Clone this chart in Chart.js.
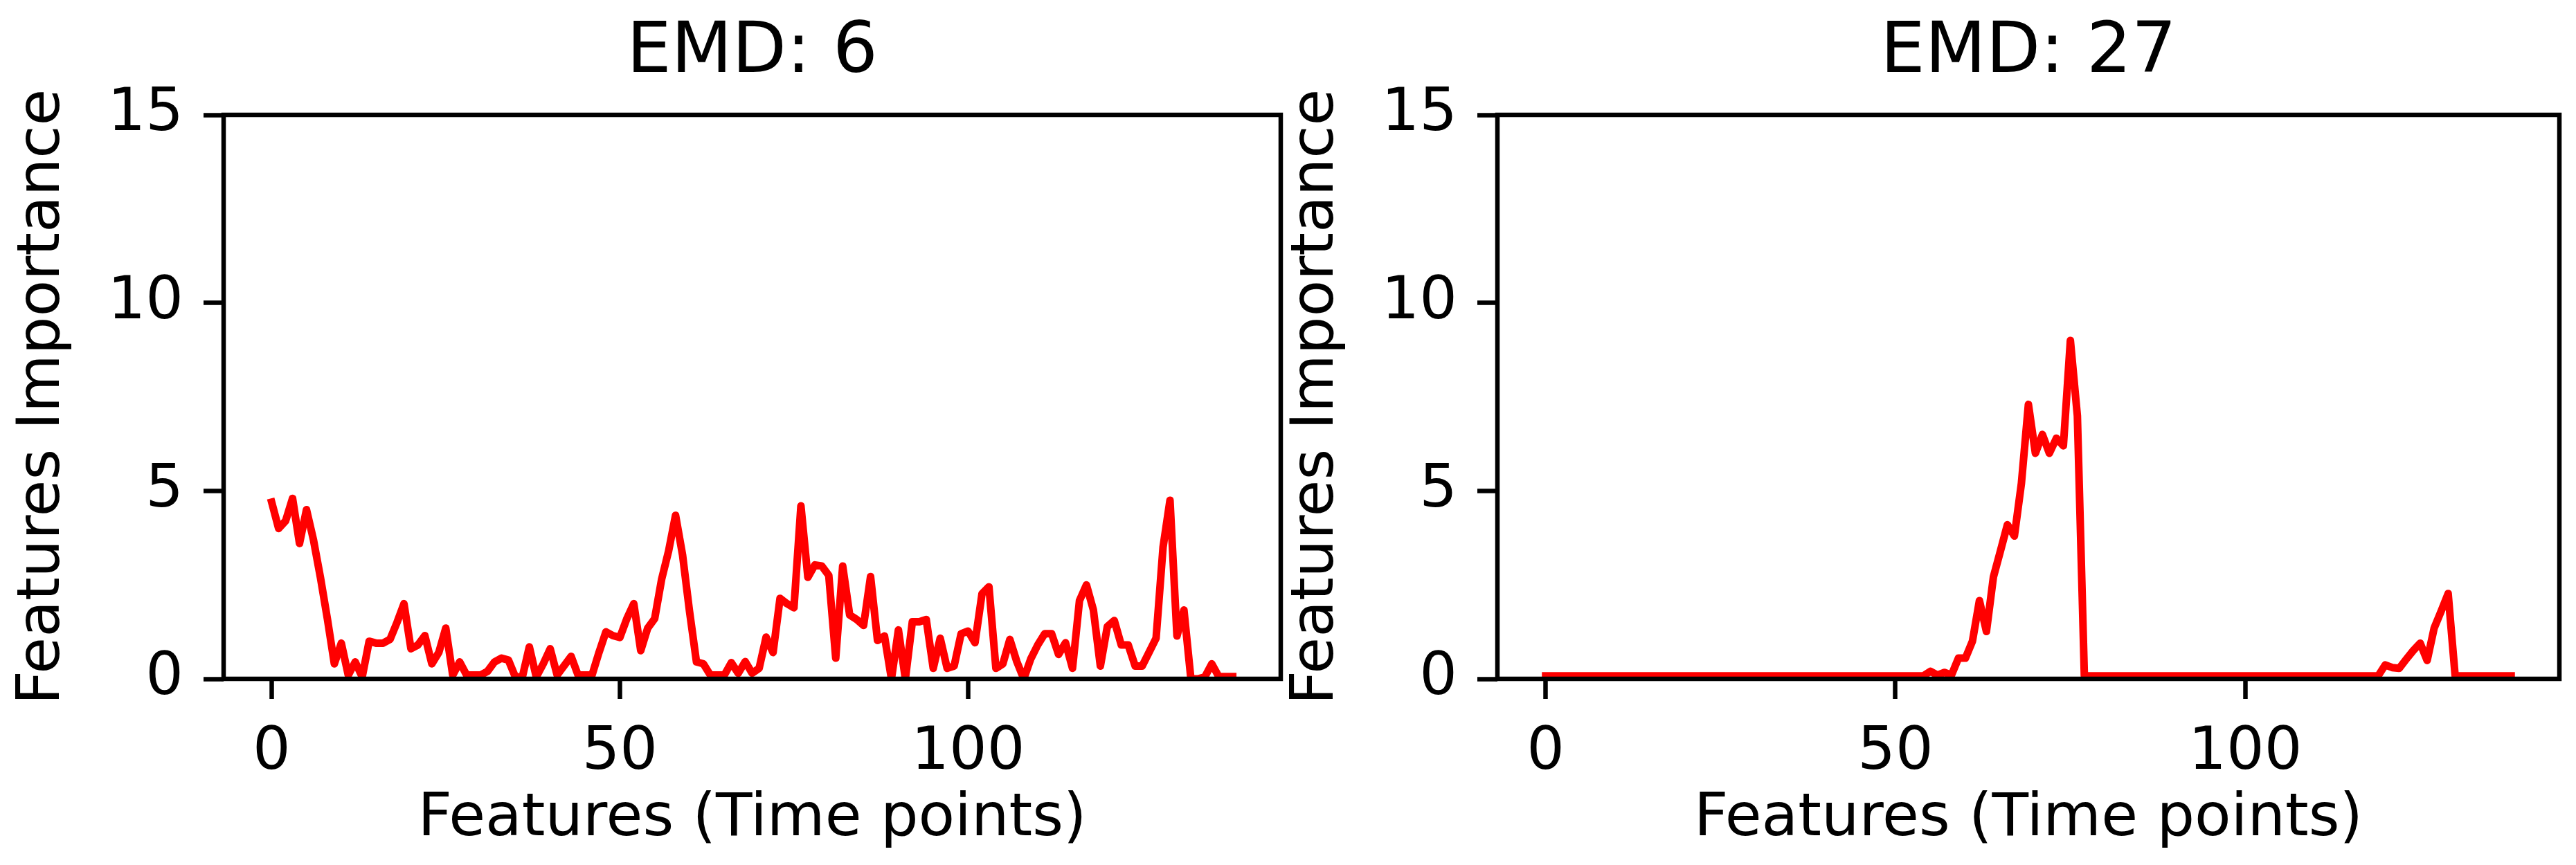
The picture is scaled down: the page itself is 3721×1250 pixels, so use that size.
<!DOCTYPE html>
<html>
<head>
<script src="https://cdn.jsdelivr.net/npm/chart.js@4.4.1/dist/chart.umd.min.js"></script>
<style>
  html, body { margin: 0; padding: 0; background: #fff; }
  body { width: 3721px; height: 1250px; position: relative; overflow: hidden; }
  .panel { position: absolute; top: 0; height: 1250px; }
</style>
</head>
<body>

<div class="panel" style="left:0px;width:1880px"><canvas id="leftChart"></canvas></div>
<div class="panel" style="left:1840px;width:1881px"><canvas id="rightChart"></canvas></div>

<script>
// feature importance per time point
const leftImportance = [
  4.7, 4.0, 4.2, 4.8, 3.6, 4.5, 3.7, 2.7, 1.6, 0.4,
  0.95, 0.1, 0.45, 0.05, 1.0, 0.95, 0.95, 1.05, 1.5, 2.0,
  0.8, 0.9, 1.15, 0.4, 0.7, 1.35, 0.1, 0.45, 0.1, 0.1,
  0.1, 0.2, 0.45, 0.55, 0.5, 0.05, 0.05, 0.85, 0.05, 0.4,
  0.8, 0.1, 0.35, 0.6, 0.1, 0.1, 0.1, 0.7, 1.25, 1.15,
  1.1, 1.6, 2.0, 0.75, 1.35, 1.6, 2.65, 3.4, 4.35, 3.3,
  1.8, 0.45, 0.4, 0.1, 0.1, 0.1, 0.43, 0.15, 0.46, 0.15,
  0.28, 1.11, 0.7, 2.14, 2.0, 1.89, 4.6, 2.7, 3.03, 3.0,
  2.75, 0.55, 3.0, 1.7, 1.58, 1.42, 2.72, 1.02, 1.14, 0.0,
  1.3, 0.0, 1.52, 1.52, 1.58, 0.28, 1.08, 0.28, 0.34, 1.2,
  1.27, 0.96, 2.26, 2.45, 0.28, 0.4, 1.05, 0.46, 0.0, 0.53,
  0.9, 1.2, 1.2, 0.65, 0.96, 0.28, 2.08, 2.5, 1.83, 0.34,
  1.39, 1.55, 0.9, 0.9, 0.34, 0.34, 0.71, 1.08, 3.5, 4.75,
  1.14, 1.83, 0.0, 0.0, 0.05, 0.4, 0.06, 0.06, 0.06
];

const rightImportance = [
  0.08, 0.08, 0.08, 0.08, 0.08, 0.08, 0.08, 0.08, 0.08, 0.08,
  0.08, 0.08, 0.08, 0.08, 0.08, 0.08, 0.08, 0.08, 0.08, 0.08,
  0.08, 0.08, 0.08, 0.08, 0.08, 0.08, 0.08, 0.08, 0.08, 0.08,
  0.08, 0.08, 0.08, 0.08, 0.08, 0.08, 0.08, 0.08, 0.08, 0.08,
  0.08, 0.08, 0.08, 0.08, 0.08, 0.08, 0.08, 0.08, 0.08, 0.08,
  0.08, 0.08, 0.08, 0.08, 0.08, 0.2, 0.1, 0.17, 0.1, 0.55,
  0.55, 1.0, 2.08, 1.26, 2.71, 3.4, 4.1, 3.8, 5.2, 7.3,
  6.0, 6.5, 6.0, 6.4, 6.2, 9.0, 7.0, 0.08, 0.08, 0.08,
  0.08, 0.08, 0.08, 0.08, 0.08, 0.08, 0.08, 0.08, 0.08, 0.08,
  0.08, 0.08, 0.08, 0.08, 0.08, 0.08, 0.08, 0.08, 0.08, 0.08,
  0.08, 0.08, 0.08, 0.08, 0.08, 0.08, 0.08, 0.08, 0.08, 0.08,
  0.08, 0.08, 0.08, 0.08, 0.08, 0.08, 0.08, 0.08, 0.08, 0.08,
  0.37, 0.3, 0.28, 0.52, 0.75, 0.95, 0.49, 1.35, 1.8, 2.27,
  0.08, 0.08, 0.08, 0.08, 0.08, 0.08, 0.08, 0.08, 0.08
];

const timePoints = leftImportance.map((_, i) => i);
const xTicks = [0, 50, 100];
const yTicks = [0, 5, 10, 15];
const titles = ['EMD: 6', 'EMD: 27'];

const FONT = 'DejaVu Sans';

// black box round the plot area, drawn over the line like matplotlib spines
const framePlugin = {
  id: 'frame',
  afterDatasetsDraw(chart) {
    const { ctx, chartArea: a } = chart;
    ctx.save();
    ctx.strokeStyle = '#000';
    ctx.lineWidth = 6.5;
    ctx.strokeRect(a.left, a.top, a.right - a.left, a.bottom - a.top);
    ctx.restore();
  }
};

function makeChart(id, values, title, padRight) {
  const ctx = document.getElementById(id).getContext('2d');
  const last = timePoints[timePoints.length - 1];
  return new Chart(ctx, {
    type: 'line',
    data: {
      datasets: [{
        data: timePoints.map((t, i) => ({ x: t, y: values[i] })),
        borderColor: '#ff0000',
        borderWidth: 11,
        pointRadius: 0,
        tension: 0,
        borderJoinStyle: 'round',
        borderCapStyle: 'square',
        clip: 0
      }]
    },
    options: {
      responsive: true,
      maintainAspectRatio: false,
      animation: false,
      devicePixelRatio: 1,
      layout: { padding: { left: 0, right: padRight, top: 0, bottom: 0 } },
      plugins: {
        legend: { display: false },
        tooltip: { enabled: false },
        title: {
          display: true,
          fullSize: false,
          text: title,
          color: '#000',
          font: { family: FONT, size: 102, weight: 'normal', lineHeight: 1 },
          padding: { top: 26, bottom: 38 }
        }
      },
      scales: {
        x: {
          type: 'linear',
          min: -0.05 * last,
          max: last * 1.05,
          afterFit: s => { s.height = 269; },
          afterBuildTicks: s => { s.ticks = xTicks.map(v => ({ value: v })); },
          border: { display: false },
          grid: { drawOnChartArea: false, drawTicks: true, tickLength: 29, tickWidth: 6.5, tickColor: '#000' },
          ticks: {
            color: '#000', padding: 27, autoSkip: false, maxRotation: 0,
            font: { family: FONT, size: 86 }
          },
          title: {
            display: true,
            text: 'Features (Time points)',
            color: '#000',
            font: { family: FONT, size: 86, lineHeight: 1 },
            padding: { top: 0, bottom: 22 }
          }
        },
        y: {
          min: 0,
          max: 15,
          afterFit: s => { s.width = 323; },
          afterBuildTicks: s => { s.ticks = yTicks.map(v => ({ value: v })); },
          border: { display: false },
          grid: { drawOnChartArea: false, drawTicks: true, tickLength: 29, tickWidth: 6.5, tickColor: '#000' },
          ticks: {
            color: '#000', padding: 29,
            font: { family: FONT, size: 86 }
          },
          title: {
            display: true,
            text: 'Features Importance',
            color: '#000',
            font: { family: FONT, size: 86, lineHeight: 1 },
            padding: { top: 20, bottom: 0 }
          }
        }
      }
    },
    plugins: [framePlugin]
  });
}

makeChart('leftChart', leftImportance, titles[0], 30);
makeChart('rightChart', rightImportance, titles[1], 24);
</script>

</body>
</html>
